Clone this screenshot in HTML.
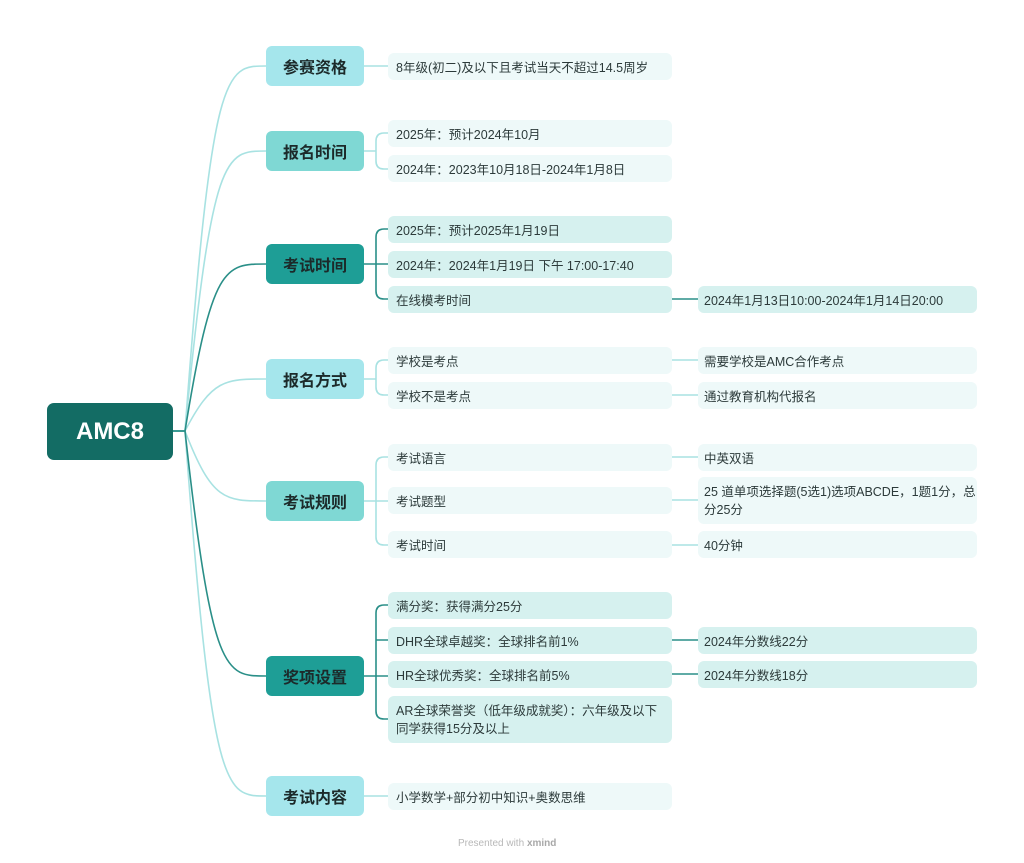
<!DOCTYPE html>
<html><head><meta charset="utf-8"><style>
body{margin:0;width:1024px;height:863px;background:#fff;position:relative;overflow:hidden;font-family:"Liberation Sans","Noto Sans CJK SC",sans-serif;}
.b{position:absolute;box-sizing:border-box;border-radius:6px;display:flex;align-items:center;}
.root{left:47px;top:403px;width:126px;height:57px;background:#136c64;color:#fff;font-size:24px;font-weight:bold;justify-content:center;border-radius:7px;}
.l1{left:266px;width:98px;height:40px;font-size:16px;font-weight:bold;color:#1c2a2a;justify-content:center;}
.lt{background:#a5e6ec;}
.md{background:#7fd8d4;}
.dk{background:#1e9e96;}
.c{left:388px;width:284px;height:27px;font-size:12.5px;color:#2c3a3a;padding-left:8px;background:#eef9f9;}
.cd{background:#d6f1ef;}
.g{left:698px;width:279px;height:27px;font-size:12.5px;color:#2c3a3a;padding-left:6px;background:#eef9f9;}
.gd{background:#d6f1ef;}
.two{line-height:18px;align-items:center;}
svg{position:absolute;left:0;top:0;}
</style></head><body>
<svg width="1024" height="863" fill="none" stroke-width="1.6">
<g stroke="#a8e2e2">
<path d="M173,431 H185 C212,66 225,66 266,66"/>
<path d="M173,431 H185 C212,151 225,151 266,151"/>
<path d="M173,431 H185 C212,379 225,379 266,379"/>
<path d="M173,431 H185 C212,501 225,501 266,501"/>
<path d="M173,431 H185 C212,796 225,796 266,796"/>
<path d="M364,66 H388"/>
<path d="M364,151 H376 M388,133 H384 Q376,133 376,141 V161 Q376,169 384,169 H388"/>
<path d="M364,379 H376 M388,360 H384 Q376,360 376,368 V387 Q376,395 384,395 H388"/>
<path d="M364,501 H388 M388,457 H384 Q376,457 376,465 V537 Q376,545 384,545 H388"/>
<path d="M364,796 H388"/>
<path d="M672,360 H698 M672,395 H698 M672,457 H698 M672,500 H698 M672,545 H698"/>
</g>
<g stroke="#2a8f88">
<path d="M173,431 H185 C212,264 225,264 266,264"/>
<path d="M173,431 H185 C212,676 225,676 266,676"/>
<path d="M364,264 H388 M388,229 H384 Q376,229 376,237 V291 Q376,299 384,299 H388"/>
<path d="M364,676 H388 M388,605 H384 Q376,605 376,613 V711 Q376,719 384,719 H388 M376,640 H388"/>
<path d="M672,299 H698 M672,640 H698 M672,674 H698"/>
</g>
</svg>
<div class="b root">AMC8</div>
<div class="b l1 lt" style="top:46px">参赛资格</div>
<div class="b l1 md" style="top:131px">报名时间</div>
<div class="b l1 dk" style="top:244px">考试时间</div>
<div class="b l1 lt" style="top:359px">报名方式</div>
<div class="b l1 md" style="top:481px">考试规则</div>
<div class="b l1 dk" style="top:656px">奖项设置</div>
<div class="b l1 lt" style="top:776px">考试内容</div>

<div class="b c" style="top:53px">8年级(初二)及以下且考试当天不超过14.5周岁</div>
<div class="b c" style="top:120px">2025年：预计2024年10月</div>
<div class="b c" style="top:155px">2024年：2023年10月18日-2024年1月8日</div>
<div class="b c cd" style="top:216px">2025年：预计2025年1月19日</div>
<div class="b c cd" style="top:251px">2024年：2024年1月19日 下午 17:00-17:40</div>
<div class="b c cd" style="top:286px">在线模考时间</div>
<div class="b c" style="top:347px">学校是考点</div>
<div class="b c" style="top:382px">学校不是考点</div>
<div class="b c" style="top:444px">考试语言</div>
<div class="b c" style="top:487px">考试题型</div>
<div class="b c" style="top:531px">考试时间</div>
<div class="b c cd" style="top:592px">满分奖：获得满分25分</div>
<div class="b c cd" style="top:627px">DHR全球卓越奖：全球排名前1%</div>
<div class="b c cd" style="top:661px">HR全球优秀奖：全球排名前5%</div>
<div class="b c cd two" style="top:696px;height:47px">AR全球荣誉奖（低年级成就奖）：六年级及以下<br>同学获得15分及以上</div>
<div class="b c" style="top:783px">小学数学+部分初中知识+奥数思维</div>

<div class="b g gd" style="top:286px">2024年1月13日10:00-2024年1月14日20:00</div>
<div class="b g" style="top:347px">需要学校是AMC合作考点</div>
<div class="b g" style="top:382px">通过教育机构代报名</div>
<div class="b g" style="top:444px">中英双语</div>
<div class="b g two" style="top:477px;height:47px">25 道单项选择题(5选1)选项ABCDE，1题1分，总<br>分25分</div>
<div class="b g" style="top:531px">40分钟</div>
<div class="b g gd" style="top:627px">2024年分数线22分</div>
<div class="b g gd" style="top:661px">2024年分数线18分</div>

<div style="position:absolute;left:458px;top:838px;font-size:10px;color:#b8b8b8">Presented with <b style="color:#a8a8a8">xmind</b></div>
</body></html>
